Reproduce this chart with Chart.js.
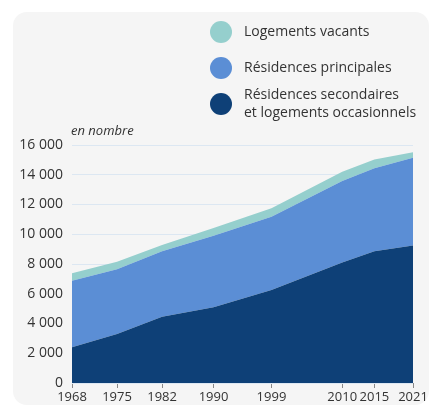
<!DOCTYPE html>
<html>
<head>
<meta charset="utf-8">
<script src="https://cdn.jsdelivr.net/npm/chart.js@4"></script>
<style>
  body { margin: 0; background: #fff; font-family: "Open Sans", sans-serif; color: #333; }
  #wrap { position: relative; width: 431px; height: 409px; overflow: hidden; }
  #panel { position: absolute; left: 13px; top: 12px; width: 416px; height: 393px; background: #f5f5f5; border-radius: 14px; }
  #c { position: absolute; left: 0; top: 0; }
  .leg { position: absolute; left: 210px; font-size: 14px; line-height: 18px; }
  .dot { position: absolute; left: 0; width: 22px; height: 22px; border-radius: 50%; }
  .txt { position: absolute; left: 34px; white-space: nowrap; }
  #unit { position: absolute; left: 71px; top: 121px; font-size: 13px; font-style: italic; }
</style>
</head>
<body>
<div id="wrap">
  <div id="panel"></div>
  <canvas id="c" width="431" height="409"></canvas>
  <div class="leg" style="top:21px"><div class="dot" style="background:#95cfcd"></div><div class="txt" style="top:1px">Logements vacants</div></div>
  <div class="leg" style="top:57px"><div class="dot" style="background:#5b8ed5"></div><div class="txt" style="top:1px">Résidences principales</div></div>
  <div class="leg" style="top:93px"><div class="dot" style="background:#0e4077"></div><div class="txt" style="top:-8px">Résidences secondaires<br>et logements occasionnels</div></div>
  <div id="unit">en nombre</div>
</div>
<script>
// années du recensement
const years = [1968, 1975, 1982, 1990, 1999, 2010, 2015, 2021];
// valeurs par catégorie (empilées)
const secondaires = [2400, 3300, 4450, 5100, 6250, 8100, 8850, 9250];
const principales = [4470, 4350, 4400, 4800, 4930, 5480, 5580, 5900];
const vacants = [500, 500, 420, 520, 560, 620, 600, 360];
const yTicks = [0, 2000, 4000, 6000, 8000, 10000, 12000, 14000, 16000];

const toXY = arr => arr.map((v, i) => ({x: years[i], y: v}));
const fmt = v => String(v).replace(/\B(?=(\d{3})+(?!\d))/g, ' ');

new Chart(document.getElementById('c'), {
  type: 'line',
  data: {
    datasets: [{
      label: 'Résidences secondaires et logements occasionnels',
      data: toXY(secondaires),
      backgroundColor: '#0e4077',
      fill: 'origin'
    }, {
      label: 'Résidences principales',
      data: toXY(principales),
      backgroundColor: '#5b8ed5',
      fill: '-1'
    }, {
      label: 'Logements vacants',
      data: toXY(vacants),
      backgroundColor: '#95cfcd',
      fill: '-1'
    }]
  },
  options: {
    responsive: false,
    animation: false,
    layout: {padding: {left: 0, right: 18, top: 145, bottom: 0}},
    elements: {
      line: {borderWidth: 0, tension: 0},
      point: {radius: 0}
    },
    plugins: {legend: {display: false}, tooltip: {enabled: false}},
    scales: {
      x: {
        type: 'linear',
        min: 1968,
        max: 2021,
        afterBuildTicks: s => { s.ticks = years.map(v => ({value: v})); },
        afterFit: s => { s.height = 26; },
        border: {display: false},
        grid: {drawOnChartArea: false, tickLength: 5, color: '#888'},
        ticks: {
          padding: 1,
          maxRotation: 0,
          autoSkip: false,
          color: '#333',
          font: {family: 'Open Sans', size: 13},
          callback: v => String(v)
        }
      },
      y: {
        stacked: true,
        min: 0,
        max: 16000,
        afterBuildTicks: s => { s.ticks = yTicks.map(v => ({value: v})); },
        afterFit: s => { s.width = 72; },
        border: {display: false},
        grid: {drawTicks: false, color: '#dce7f2'},
        ticks: {
          padding: 9,
          color: '#333',
          font: {family: 'Open Sans', size: 14},
          callback: v => fmt(v)
        }
      }
    }
  }
});
</script>
</body>
</html>
